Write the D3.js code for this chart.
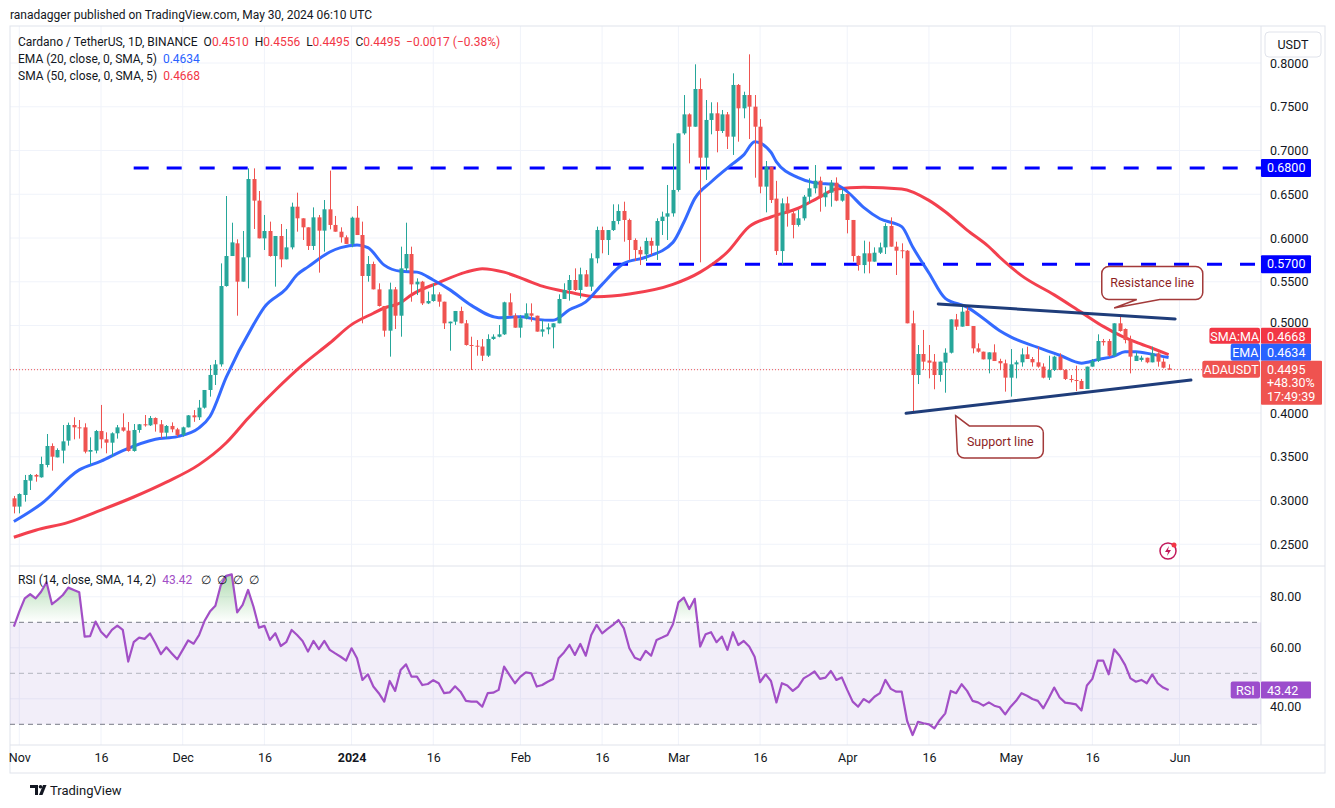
<!DOCTYPE html>
<html>
<head>
<meta charset="utf-8">
<script src="https://cdn.jsdelivr.net/npm/d3@7"></script>
<style>
  body { margin: 0; background: #fff; }
  text { font-family: Roboto, "Noto Sans", sans-serif; white-space: pre; }
</style>
</head>
<body>
<script>
const w = 1335;
const h = 808;

// daily candles, Oct 31 2023 .. May 30 2024  [open, high, low, close]
const ohlc = [
  [.3025,.3052,.2853,.2930],
  // Nov
  [.2930,.3082,.2853,.3074],[.3063,.3292,.2987,.3234],[.3227,.3303,.3120,.3292],[.3292,.3303,.3215,.3273],
  [.3265,.3501,.3261,.3417],[.3406,.3760,.3379,.3623],[.3623,.3653,.3341,.3501],[.3493,.3596,.3493,.3577],
  [.3570,.3863,.3425,.3676],[.3684,.3890,.3627,.3863],[.3863,.3951,.3699,.3836],[.3836,.3920,.3707,.3829],
  [.3836,.3882,.3539,.3558],[.3558,.3722,.3406,.3577],[.3570,.3806,.3539,.3794],[.3794,.4092,.3596,.3699],
  [.3699,.3779,.3539,.3661],[.3661,.3779,.3501,.3768],[.3768,.3863,.3707,.3836],[.3836,.3996,.3787,.3798],
  [.3798,.3897,.3558,.3566],[.3566,.3874,.3558,.3806],[.3806,.3874,.3775,.3871],[.3871,.3977,.3844,.3859],
  [.3859,.3966,.3852,.3943],[.3943,.3950,.3787,.3871],[.3871,.3920,.3711,.3775],[.3775,.3863,.3711,.3852],
  [.3852,.3893,.3779,.3813],[.3813,.3830,.3730,.3749],
  // Dec
  [.3749,.3844,.3730,.3836],[.3836,.3977,.3836,.3973],[.3973,.4034,.3899,.3951],[.3951,.4149,.3920,.4061],
  [.4061,.4263,.4050,.4263],[.4263,.4549,.4187,.4435],[.4435,.4606,.4320,.4556],[.4556,.5710,.4530,.5451],
  [.5451,.6480,.5444,.5794],[.5794,.6175,.5794,.5950],[.5939,.5985,.5112,.5501],[.5501,.6080,.5501,.5779],
  [.5779,.6796,.5425,.6674],[.6674,.6796,.6103,.6427],[.6427,.6537,.5996,.5996],[.5996,.6263,.5863,.6080],
  [.6080,.6187,.5787,.5794],[.5794,.6023,.5444,.6023],[.6023,.6160,.5665,.5756],[.5756,.6103,.5756,.5893],
  [.5893,.6404,.5870,.6358],[.6358,.6518,.6072,.6225],[.6225,.6225,.5977,.6122],[.6122,.6122,.5863,.5909],
  [.5909,.6350,.5863,.6236],[.6236,.6263,.5604,.6084],[.6084,.6434,.5844,.6328],[.6328,.6770,.6099,.6149],
  [.6149,.6252,.6072,.6072],[.6072,.6122,.5947,.6008],[.6008,.6030,.5932,.5932],
  // Jan
  [.5932,.6244,.5894,.6232],[.6232,.6366,.6034,.6034],[.6034,.6187,.5025,.5566],[.5566,.5794,.5501,.5703],
  [.5703,.5730,.5413,.5413],[.5413,.5482,.5216,.5223],[.5223,.5223,.4872,.4941],[.4941,.5490,.4644,.5413],
  [.5413,.5440,.4960,.5112],[.5112,.5901,.4872,.5653],[.5653,.6175,.5620,.5817],[.5817,.5901,.5272,.5470],
  [.5470,.5539,.5348,.5501],[.5501,.5510,.5234,.5253],[.5253,.5387,.5245,.5280],[.5280,.5482,.5272,.5356],
  [.5356,.5380,.5215,.5272],[.5272,.5272,.4960,.5025],[.5025,.5044,.4712,.5044],[.5044,.5166,.5007,.5166],
  [.5166,.5215,.5025,.5025],[.5025,.5063,.4770,.4777],[.4777,.4872,.4491,.4769],[.4769,.4834,.4655,.4760],
  [.4760,.4845,.4594,.4655],[.4655,.4899,.4640,.4846],[.4846,.4899,.4836,.4872],[.4872,.5006,.4865,.4899],
  [.4899,.5272,.4892,.5265],[.5265,.5368,.5112,.5112],[.5112,.5139,.4975,.4975],
  // Feb
  [.4975,.5120,.4861,.5082],[.5082,.5253,.5070,.5139],[.5139,.5253,.5044,.5112],[.5112,.5112,.4930,.4930],
  [.4930,.5063,.4872,.4956],[.4956,.5025,.4900,.4979],[.4979,.5025,.4739,.5025],[.5025,.5356,.5025,.5303],
  [.5303,.5482,.5303,.5406],[.5406,.5577,.5284,.5520],[.5520,.5653,.5394,.5406],[.5406,.5661,.5311,.5585],
  [.5585,.5634,.5444,.5444],[.5444,.5825,.5394,.5768],[.5768,.6130,.5711,.6091],[.6091,.6130,.5825,.5977],
  [.5977,.6091,.5806,.6091],[.6091,.6385,.6080,.6194],[.6194,.6385,.6157,.6309],[.6309,.6415,.5958,.6206],
  [.6206,.6221,.5749,.5977],[.5977,.5996,.5737,.5863],[.5863,.5901,.5691,.5813],[.5813,.6004,.5737,.5966],
  [.5966,.6004,.5806,.5912],[.5912,.6225,.5749,.6194],[.6194,.6301,.6034,.6244],[.6244,.6606,.5977,.6282],
  [.6282,.7082,.6244,.6549],
  // Mar
  [.6549,.7196,.6530,.7196],[.7196,.7634,.7180,.7413],[.7413,.7425,.6853,.7272],[.7272,.7985,.7272,.7703],
  [.7703,.7825,.5722,.6918],[.6918,.7577,.6663,.7349],[.7349,.7551,.7185,.7425],[.7425,.7551,.6979,.7223],
  [.7223,.7463,.7200,.7413],[.7413,.7440,.7017,.7158],[.7158,.7882,.6949,.7749],[.7749,.7760,.7101,.7482],
  [.7482,.7672,.7368,.7634],[.7634,.8099,.7131,.7501],[.7501,.7634,.6689,.7272],[.7272,.7360,.6511,.6587],
  [.6587,.6880,.6293,.6815],[.6815,.6815,.6400,.6434],[.6450,.6653,.5806,.5851],[.5851,.6453,.5699,.6396],
  [.6396,.6472,.6130,.6282],[.6282,.6320,.5996,.6149],[.6149,.6320,.6130,.6225],[.6225,.6491,.6200,.6472],
  [.6472,.6682,.6396,.6568],[.6568,.6834,.6510,.6655],[.6655,.6701,.6301,.6465],[.6465,.6587,.6358,.6518],
  [.6518,.6663,.6358,.6632],[.6632,.6693,.6420,.6427],[.6427,.6556,.6415,.6503],
  // Apr
  [.6503,.6510,.6053,.6206],[.6206,.6206,.5730,.5794],[.5794,.5800,.5627,.5691],[.5691,.5970,.5596,.5825],
  [.5825,.5958,.5596,.5730],[.5730,.5893,.5730,.5832],[.5832,.5947,.5817,.5893],[.5893,.6168,.5817,.6137],
  [.6137,.6236,.5901,.5901],[.5901,.5958,.5577,.5855],[.5860,.5939,.5768,.5855],[.5855,.5862,.5025,.5025],
  [.5025,.5170,.4004,.4434],[.4434,.4777,.4331,.4674],[.4674,.4949,.4492,.4587],[.4600,.4777,.4396,.4575],
  [.4587,.4674,.4271,.4434],[.4434,.4587,.4358,.4587],[.4575,.4739,.4232,.4689],[.4689,.5070,.4680,.5070],
  [.5070,.5132,.4949,.4987],[.4987,.5215,.4987,.5158],[.5170,.5215,.4994,.4994],[.4994,.4994,.4682,.4739],
  [.4739,.4796,.4690,.4701],[.4701,.4701,.4613,.4613],[.4613,.4693,.4453,.4693],[.4693,.4785,.4594,.4594],
  [.4594,.4620,.4491,.4568],[.4568,.4610,.4244,.4404],
  // May
  [.4404,.4731,.4187,.4556],[.4556,.4601,.4396,.4579],[.4579,.4739,.4530,.4670],[.4670,.4758,.4617,.4617],
  [.4617,.4640,.4530,.4579],[.4579,.4758,.4518,.4530],[.4530,.4568,.4396,.4404],[.4404,.4655,.4377,.4491],
  [.4491,.4655,.4480,.4644],[.4644,.4682,.4491,.4491],[.4491,.4500,.4377,.4389],[.4389,.4434,.4350,.4377],
  [.4377,.4541,.4251,.4366],[.4366,.4389,.4274,.4274],[.4274,.4530,.4274,.4530],[.4530,.4617,.4530,.4594],
  [.4594,.4899,.4583,.4823],[.4823,.4846,.4770,.4808],[.4823,.4846,.4644,.4655],[.4655,.5025,.4644,.5025],
  [.5025,.5112,.4930,.4937],[.4960,.4967,.4796,.4834],[.4834,.4884,.4453,.4644],[.4594,.4701,.4594,.4655],
  [.4606,.4655,.4587,.4632],[.4632,.4632,.4568,.4579],[.4579,.4758,.4579,.4682],[.4682,.4693,.4530,.4587],
  [.4587,.4625,.4510,.4518],[.4510,.4556,.4495,.4495]
];

// moving averages: [day index, value]
const emaPoints = [[0,.276],[5,.296],[12,.335],[16,.345],[20,.357],[26,.370],[30,.373],[34,.383],[36,.396],
  [39,.441],[44,.501],[46,.521],[50,.542],[52,.558],[54,.567],[58,.584],[60,.589],[63,.592],[65,.589],
  [68,.569],[71,.562],[74,.561],[77,.552],[80,.541],[84,.523],[89,.509],[93,.510],[96,.507],[99,.506],
  [102,.518],[105,.527],[108,.547],[112,.571],[116,.578],[121,.595],[123,.618],[125,.645],[128,.664],
  [132,.685],[134,.695],[136,.710],[139,.698],[140,.687],[144,.669],[147,.663],[151,.661],[153,.653],
  [156,.635],[159,.622],[163,.613],[165,.590],[168,.560],[171,.531],[175,.521],[178,.508],[181,.494],
  [183,.487],[188,.475],[192,.466],[196,.457],[199,.461],[202,.465],[204,.470],[206,.470],[209,.467],[212,.4634]];

const smaPoints = [[0,.258],[4,.266],[10,.275],[16,.289],[22,.304],[28,.321],[34,.341],[39,.366],[43,.394],
  [48,.426],[53,.455],[58,.480],[62,.501],[66,.514],[68,.520],[71,.526],[73,.535],[78,.549],[83,.561],
  [86,.565],[90,.561],[94,.552],[97,.545],[102,.538],[107,.533],[113,.536],[121,.547],[126,.561],[131,.584],
  [135,.613],[139,.624],[144,.634],[148,.647],[151,.656],[156,.658],[163,.656],[168,.643],[171,.630],
  [175,.609],[179,.590],[181,.578],[185,.557],[191,.535],[196,.515],[200,.499],[203,.489],[206,.481],
  [209,.474],[212,.4668]];

// RSI(14) per candle
const rsiValues = [
  68.3,74.2,79.4,81.0,79.4,82.0,85.7,77.1,78.8,80.7,
  83.6,82.7,81.8,64.4,64.6,70.3,66.3,64.1,67.0,68.7,
  67.0,54.6,62.2,64.0,63.5,65.6,61.8,57.5,60.2,57.8,
  55.5,59.2,62.9,61.6,65.0,70.5,74.2,76.5,84.6,88.2,
  88.8,73.9,76.8,82.7,76.1,67.9,68.6,63.1,65.7,60.7,
  62.2,67.0,65.0,62.7,58.5,62.7,59.5,62.7,59.2,57.8,
  56.5,55.0,59.8,55.9,47.4,49.6,44.8,42.2,38.9,47.0,
  43.1,51.3,53.5,48.7,48.7,45.4,45.8,47.3,46.1,42.2,
  42.5,44.9,42.8,39.2,38.9,38.9,36.9,42.2,42.4,43.5,
  52.6,49.3,46.1,48.7,50.4,50.0,44.8,45.4,46.7,47.8,
  55.9,58.2,61.1,57.2,61.5,56.9,65.0,69.0,65.7,67.4,
  69.0,70.9,67.6,59.8,56.1,55.2,58.8,56.9,63.1,64.0,
  65.0,69.2,77.8,79.7,75.2,79.2,60.5,65.3,66.1,62.2,
  64.4,59.2,66.1,61.1,62.7,60.5,56.5,46.5,49.6,47.0,
  38.6,46.1,45.2,43.1,44.8,48.0,49.3,50.7,47.8,48.3,
  50.9,47.4,48.4,43.5,38.9,36.9,39.9,38.6,40.8,42.2,
  47.4,43.9,42.8,42.8,31.3,25.8,31.0,30.4,30.0,28.4,
  31.7,34.3,43.1,42.2,45.7,43.1,39.2,38.6,37.3,38.6,
  37.3,36.7,33.9,36.9,39.2,42.2,41.2,39.9,39.2,36.3,
  40.2,44.4,40.5,38.5,38.2,37.8,35.4,45.2,47.8,55.0,
  55.0,49.6,59.4,56.9,53.3,48.0,46.7,47.4,46.1,49.6,
  46.1,44.4,43.42
];

// drawn levels and trend lines
const levels = [0.68, 0.57];
const levelStartDays = [22, 110];
const resistanceLine = [[169.7, 0.5246], [213.2, 0.5074]];
const supportLine = [[163.8, 0.3997], [216.1, 0.4377]];
const resistanceNote = { text: "Resistance line", day: 209, price: 0.5486, tipDay: 202, tipPrice: 0.520 };
const supportNote = { text: "Support line", day: 181.1, price: 0.3669, tipDay: 172.9, tipPrice: 0.3969 };

// axes
const priceTicks = [0.25, 0.30, 0.35, 0.40, 0.45, 0.50, 0.55, 0.60, 0.65, 0.70, 0.75, 0.80];
const rsiTicks = [40, 60, 80];
const rsiGuides = [30, 50, 70];
const timeTicks = ["2023-11-01","2023-11-16","2023-12-01","2023-12-16","2024-01-01","2024-01-16","2024-02-01",
  "2024-02-16","2024-03-01","2024-03-16","2024-04-01","2024-04-16","2024-05-01","2024-05-16","2024-06-01"];
const timeLabels = ["Nov","16","Dec","16","2024","16","Feb","16","Mar","16","Apr","16","May","16","Jun"];

const lastEma = 0.4634, lastSma = 0.4668, lastClose = 0.4495, lastRsi = 43.42;

////////////////////////

const up = "#26a69a", down = "#ef5350";
const grid = "#f0f3fa", border = "#e0e3eb", ink = "#131722";
const left = 10, right = 1261, frameR = 1325;
const priceTop = 26, priceBot = 566, rsiBot = 745, axisBot = 773;
const fs = 12;

const start = Date.UTC(2023, 9, 31);
const dayDate = (i) => new Date(start + i * 864e5);

const x = d3.scaleUtc()
  .domain([new Date(Date.UTC(2023, 10, 1)), new Date(Date.UTC(2024, 5, 1))])
  .range([19.3, 1179.5]);
const y = d3.scaleLinear().domain([0.4, 0.8]).range([413, 63]);
const yr = d3.scaleLinear().domain([30, 70]).range([724.3, 622.3]);
const xd = (i) => x(dayDate(i));

const svg = d3.select("body").append("svg").attr("width", w).attr("height", h);
const defs = svg.append("defs");

defs.append("clipPath").attr("id", "clipPrice")
  .append("rect").attr("x", left).attr("y", priceTop).attr("width", right - left).attr("height", priceBot - priceTop);
defs.append("clipPath").attr("id", "clipRsi")
  .append("rect").attr("x", left).attr("y", priceBot + 1).attr("width", right - left).attr("height", rsiBot - priceBot - 1);

// header
svg.append("text").attr("x", 10).attr("y", 19).attr("font-size", fs).attr("fill", ink)
  .text("ranadagger published on TradingView.com, May 30, 2024 06:10 UTC");

// grid
svg.append("g").selectAll("line").data(priceTicks).enter().append("line")
  .attr("x1", left).attr("x2", right).attr("y1", (d) => y(d)).attr("y2", (d) => y(d))
  .attr("stroke", grid);
svg.append("g").selectAll("line").data(rsiTicks).enter().append("line")
  .attr("x1", left).attr("x2", right).attr("y1", (d) => yr(d)).attr("y2", (d) => yr(d))
  .attr("stroke", grid);
svg.append("g").selectAll("line").data(timeTicks).enter().append("line")
  .attr("x1", (d) => x(new Date(d))).attr("x2", (d) => x(new Date(d)))
  .attr("y1", priceTop).attr("y2", rsiBot).attr("stroke", grid);

// frame
const frame = svg.append("g").attr("stroke", border).attr("fill", "none");
frame.append("rect").attr("x", left).attr("y", priceTop).attr("width", frameR - left).attr("height", axisBot - priceTop);
frame.append("line").attr("x1", left).attr("x2", frameR).attr("y1", priceBot).attr("y2", priceBot);
frame.append("line").attr("x1", left).attr("x2", frameR).attr("y1", rsiBot).attr("y2", rsiBot);
frame.append("line").attr("x1", right).attr("x2", right).attr("y1", priceTop).attr("y2", rsiBot);

// ---------- price pane ----------
const pane = svg.append("g").attr("clip-path", "url(#clipPrice)");

// horizontal levels
pane.selectAll(".level").data(levels).enter().append("line")
  .attr("x1", (d, i) => xd(levelStartDays[i])).attr("x2", right)
  .attr("y1", (d) => y(d)).attr("y2", (d) => y(d))
  .attr("stroke", "#0000ff").attr("stroke-width", 3).attr("stroke-dasharray", "15,18");

// last price dotted
pane.append("line").attr("x1", left).attr("x2", right)
  .attr("y1", y(lastClose)).attr("y2", y(lastClose))
  .attr("stroke", down).attr("stroke-dasharray", "1,2");

const maLine = d3.line().x((d) => xd(d[0])).y((d) => y(d[1])).curve(d3.curveMonotoneX);
pane.append("path").attr("d", maLine(smaPoints)).attr("fill", "none")
  .attr("stroke", "#f23645").attr("stroke-width", 3).attr("stroke-opacity", 0.95);
pane.append("path").attr("d", maLine(emaPoints)).attr("fill", "none")
  .attr("stroke", "#2962ff").attr("stroke-width", 3).attr("stroke-opacity", 0.95);

const step = xd(1) - xd(0);
const bw = Math.round(step * 0.75);
const candles = pane.append("g").selectAll("g").data(ohlc).enter().append("g")
  .attr("fill", (d) => d[3] >= d[0] ? up : down)
  .attr("stroke", (d) => d[3] >= d[0] ? up : down);
candles.append("line")
  .attr("x1", (d, i) => Math.round(xd(i)) + 0.5).attr("x2", (d, i) => Math.round(xd(i)) + 0.5)
  .attr("y1", (d) => y(d[1])).attr("y2", (d) => y(d[2]));
candles.append("rect")
  .attr("stroke", "none")
  .attr("x", (d, i) => Math.round(xd(i)) + 0.5 - bw / 2)
  .attr("width", bw)
  .attr("y", (d) => y(Math.max(d[0], d[3])))
  .attr("height", (d) => Math.max(1, Math.abs(y(d[0]) - y(d[3]))));

// trend lines
const trend = d3.line().x((d) => xd(d[0])).y((d) => y(d[1]));
[resistanceLine, supportLine].forEach((l) => {
  pane.append("path").attr("d", trend(l)).attr("stroke", "#1f3d7a")
    .attr("stroke-width", 3).attr("stroke-linecap", "round").attr("fill", "none");
});

// callouts
function callout(note, wd, ht, tailSide) {
  const cx = xd(note.day), cy = y(note.price);
  const x0 = cx - wd / 2, y0 = cy - ht / 2, r = 7;
  const tx = xd(note.tipDay), ty = y(note.tipPrice);
  let p;
  if (tailSide === "bottom") {
    p = `M${x0 + r},${y0} H${x0 + wd - r} A${r},${r} 0 0 1 ${x0 + wd},${y0 + r} V${y0 + ht - r}
      A${r},${r} 0 0 1 ${x0 + wd - r},${y0 + ht} H${x0 + 58} L${tx},${ty} L${x0 + 35},${y0 + ht}
      H${x0 + r} A${r},${r} 0 0 1 ${x0},${y0 + ht - r} V${y0 + r} A${r},${r} 0 0 1 ${x0 + r},${y0} Z`;
  } else {
    p = `M${tx},${ty} L${x0 + 12},${y0} H${x0 + wd - r} A${r},${r} 0 0 1 ${x0 + wd},${y0 + r} V${y0 + ht - r}
      A${r},${r} 0 0 1 ${x0 + wd - r},${y0 + ht} H${x0 + r} A${r},${r} 0 0 1 ${x0},${y0 + ht - r} Z`;
  }
  svg.append("path").attr("d", p).attr("fill", "#fff").attr("stroke", "#a33a3a").attr("stroke-width", 1.5);
  svg.append("text").attr("x", cx).attr("y", cy + 4.5).attr("text-anchor", "middle")
    .attr("font-size", 12.5).attr("fill", "#8e1f1f").text(note.text);
}
callout(resistanceNote, 101, 33, "bottom");
callout(supportNote, 86, 32, "top");

// legend
const legend = svg.append("g").attr("font-size", fs).attr("fill", ink);
const l1 = legend.append("text").attr("x", 18).attr("y", 46);
l1.append("tspan").text("Cardano / TetherUS, 1D, BINANCE  O");
const last = ohlc[ohlc.length - 1];
[["", last[0]], ["H", last[1]], ["L", last[2]], ["C", last[3]]].forEach((p, i) => {
  if (i > 0) l1.append("tspan").text("  " + p[0]);
  l1.append("tspan").attr("fill", "#f23645").text(p[1].toFixed(4));
});
l1.append("tspan").attr("fill", "#f23645").text("  \u22120.0017 (\u22120.38%)");
const l2 = legend.append("text").attr("x", 18).attr("y", 63);
l2.append("tspan").text("EMA (20, close, 0, SMA, 5)  ");
l2.append("tspan").attr("fill", "#2962ff").text(lastEma.toFixed(4));
const l3 = legend.append("text").attr("x", 18).attr("y", 80);
l3.append("tspan").text("SMA (50, close, 0, SMA, 5)  ");
l3.append("tspan").attr("fill", "#f23645").text(lastSma.toFixed(4));

// price axis (the 0.4500 label sits fully under the last-price tag, as in the original)
const yAxis = d3.axisRight(y).tickValues(priceTicks.filter((d) => Math.abs(d - lastClose) > 0.01))
  .tickFormat(d3.format(".4f")).tickSize(0).tickPadding(9);
svg.append("g").attr("transform", "translate(" + right + ",0)").call(yAxis)
  .call((g) => g.select(".domain").remove())
  .selectAll("text").attr("font-size", 12.5).attr("fill", ink).style("font-family", "Roboto, sans-serif")
  .attr("dy", (d) => Math.abs(d - 0.5) < 1e-6 ? "0.1em" : "0.32em");

// axis tags
function tag(yc, hgt, bg, label, lines, valW) {
  const g = svg.append("g");
  g.append("rect").attr("x", right).attr("y", yc - hgt / 2).attr("width", valW).attr("height", hgt)
    .attr("fill", bg).attr("rx", 1);
  lines.forEach((t, i) => {
    g.append("text").attr("x", right + 6).attr("y", yc - hgt / 2 + 13 + i * 13.5)
      .attr("font-size", 12.5).attr("fill", "#fff").text(t);
  });
  if (label) {
    const tw = label.length * 7.1 + 8;
    g.append("rect").attr("x", right - 1 - tw).attr("y", yc - hgt / 2).attr("width", tw).attr("height", Math.min(hgt, 17))
      .attr("fill", bg).attr("rx", 2);
    g.append("text").attr("x", right - 1 - tw / 2).attr("y", yc - hgt / 2 + 13).attr("text-anchor", "middle")
      .attr("font-size", 12.5).attr("fill", "#fff").text(label);
  }
}
levels.forEach((d) => tag(y(d), 18, "#0000ff", null, [d.toFixed(4)], 50));
const lastTop = y(lastClose) - 9;
tag(lastTop - 17 - 16 + 8, 16, "#f23645", "SMA:MA", [lastSma.toFixed(4)], 50);
tag(lastTop - 17 + 8.5, 17, "#2962ff", "EMA", [lastEma.toFixed(4)], 50);
tag(lastTop + 22, 44, "#ef5350", "ADAUSDT", [lastClose.toFixed(4), "+48.30%", "17:49:39"], 61);

// USDT box
svg.append("rect").attr("x", 1265).attr("y", 32).attr("width", 56).attr("height", 25).attr("rx", 4)
  .attr("fill", "#fff").attr("stroke", border);
svg.append("text").attr("x", 1293).attr("y", 49).attr("text-anchor", "middle").attr("font-size", 12.5)
  .attr("fill", ink).text("USDT");

// alert icon
const icon = svg.append("g").attr("transform", "translate(1168,551)");
icon.append("circle").attr("r", 8).attr("fill", "none").attr("stroke", "#c2185b").attr("stroke-width", 1.5);
icon.append("path").attr("d", "M1,-5 L-3,1 L0,1 L-1,5 L3,-1 L0,-1 Z").attr("fill", "#c2185b");
icon.append("circle").attr("cx", 6).attr("cy", -6).attr("r", 2.5).attr("fill", "#f23645");

// ---------- RSI pane ----------
const rp = svg.append("g").attr("clip-path", "url(#clipRsi)");
rp.append("rect").attr("x", left).attr("width", right - left)
  .attr("y", yr(70)).attr("height", yr(30) - yr(70)).attr("fill", "#7e57c2").attr("fill-opacity", 0.1);
rp.selectAll(".guide").data(rsiGuides).enter().append("line")
  .attr("x1", left).attr("x2", right).attr("y1", (d) => yr(d)).attr("y2", (d) => yr(d))
  .attr("stroke", (d) => d === 50 ? "#b2b5be" : "#787b86").attr("stroke-dasharray", "5,4");

const gUp = defs.append("linearGradient").attr("id", "gUp").attr("gradientUnits", "userSpaceOnUse")
  .attr("x1", 0).attr("x2", 0).attr("y1", yr(95)).attr("y2", yr(70));
gUp.append("stop").attr("offset", 0).attr("stop-color", "#4caf50").attr("stop-opacity", 0.6);
gUp.append("stop").attr("offset", 1).attr("stop-color", "#4caf50").attr("stop-opacity", 0);
const gDn = defs.append("linearGradient").attr("id", "gDn").attr("gradientUnits", "userSpaceOnUse")
  .attr("x1", 0).attr("x2", 0).attr("y1", yr(30)).attr("y2", yr(15));
gDn.append("stop").attr("offset", 0).attr("stop-color", "#f23645").attr("stop-opacity", 0);
gDn.append("stop").attr("offset", 1).attr("stop-color", "#f23645").attr("stop-opacity", 0.5);

defs.append("clipPath").attr("id", "above70").append("rect")
  .attr("x", left).attr("y", priceBot).attr("width", right - left).attr("height", yr(70) - priceBot);
defs.append("clipPath").attr("id", "below30").append("rect")
  .attr("x", left).attr("y", yr(30)).attr("width", right - left).attr("height", rsiBot - yr(30));

rp.append("path").attr("clip-path", "url(#above70)").attr("fill", "url(#gUp)")
  .attr("d", d3.area().x((d, i) => xd(i)).y0(yr(70)).y1((d) => yr(d))(rsiValues));
rp.append("path").attr("clip-path", "url(#below30)").attr("fill", "url(#gDn)")
  .attr("d", d3.area().x((d, i) => xd(i)).y0(yr(30)).y1((d) => yr(d))(rsiValues));
rp.append("path").attr("fill", "none").attr("stroke", "#a24fc6").attr("stroke-width", 2.2)
  .attr("stroke-linejoin", "round")
  .attr("d", d3.line().x((d, i) => xd(i)).y((d) => yr(d))(rsiValues));

const rl = svg.append("text").attr("x", 18).attr("y", 584).attr("font-size", fs).attr("fill", ink);
rl.append("tspan").text("RSI (14, close, SMA, 14, 2)  ");
rl.append("tspan").attr("fill", "#a24fc6").text(lastRsi.toFixed(2));
rl.append("tspan").text("   \u2205  \u2205  \u2205  \u2205");

// RSI scale; 40.00 would sit under the RSI tag, so it is nudged just below it
const rAxis = d3.axisRight(yr).tickValues(rsiTicks).tickFormat(d3.format(".2f")).tickSize(0).tickPadding(9);
svg.append("g").attr("transform", "translate(" + right + ",0)").call(rAxis)
  .call((g) => g.select(".domain").remove())
  .selectAll("text").attr("font-size", 12.5).attr("fill", ink).style("font-family", "Roboto, sans-serif")
  .attr("dy", (d) => d === 40 ? "0.95em" : "0.32em");
tag(yr(lastRsi), 17, "#9c4dcc", "RSI", [lastRsi.toFixed(2)], 50);

// ---------- time axis ----------
const xAxis = d3.axisBottom(x).tickValues(timeTicks.map((d) => new Date(d)))
  .tickFormat((d, i) => timeLabels[i]).tickSize(0).tickPadding(8);
svg.append("g").attr("transform", "translate(0," + rsiBot + ")").call(xAxis)
  .call((g) => g.select(".domain").remove())
  .selectAll("text").attr("font-size", 12.5).attr("fill", ink).style("font-family", "Roboto, sans-serif")
  .attr("font-weight", (d, i) => timeLabels[i] === "2024" ? "bold" : "normal");

// footer logo
const logo = svg.append("g").attr("fill", ink);
logo.append("path").attr("d", "M30,785 h8 v10 h-3 v-7 h-5 Z");
logo.append("circle").attr("cx", 40.5).attr("cy", 786.8).attr("r", 1.8);
logo.append("path").attr("d", "M43,785 h3.5 l-4,10 h-3.5 Z");
svg.append("text").attr("x", 50).attr("y", 795).attr("font-size", 13).attr("fill", ink).text("TradingView");
</script>
</body>
</html>
